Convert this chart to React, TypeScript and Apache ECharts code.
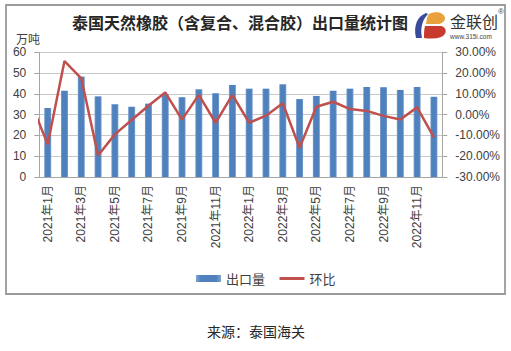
import React, { useEffect, useRef } from "react";
import * as echarts from "echarts";

const months = [
  "2021年1月", "2021年2月", "2021年3月", "2021年4月", "2021年5月", "2021年6月",
  "2021年7月", "2021年8月", "2021年9月", "2021年10月", "2021年11月", "2021年12月",
  "2022年1月", "2022年2月", "2022年3月", "2022年4月", "2022年5月", "2022年6月",
  "2022年7月", "2022年8月", "2022年9月", "2022年10月", "2022年11月", "2022年12月",
];
const priorMonth = "2020年12月";
const exportVolume = [
  33.2, 41.5, 48.3, 38.8, 35.0, 33.8, 35.3, 39.8, 38.4, 42.2, 40.3, 44.3,
  42.5, 42.5, 44.6, 37.5, 39.0, 41.5, 42.5, 43.3, 43.2, 41.9, 43.3, 38.6,
];
// month-on-month change (%), first value is Dec 2020 (clipped at the left edge)
const momChange = [
  5.9, -14.3, 25.8, 17.5, -19.7, -9.5, -2.6, 4.3, 10.7, -2.4, 9.5, -3.9, 9.5,
  -3.9, -0.5, 5.5, -15.9, 3.8, 6.2, 2.7, 1.8, -0.6, -2.3, 3.5, -10.9,
];
const leftTicks = { min: 0, max: 60, interval: 10 };
const rightTicks = { min: -30, max: 30, interval: 10 };

const blueD = "M15 3 C7 6 2 15 5 28 L11 28 C9 19 11 10 17 4 Z";
const orangeD = "M18 4 C24 1 33 2 34 8 C34 12 30 14 26 14 L15 14 C16 9 16 6 18 4 Z";
const redD = "M14 16 L30 16 C35 17 36 22 33 25 C29 29 20 29 13 28 C13 24 13 20 14 16 Z";
echarts.graphic.registerShape("logoBlue", echarts.graphic.extendPath(blueD, {}) as any);
echarts.graphic.registerShape("logoOrange", echarts.graphic.extendPath(orangeD, {}) as any);
echarts.graphic.registerShape("logoRed", echarts.graphic.extendPath(redD, {}) as any);

const FONT = "'Liberation Sans', Arial, 'Noto Sans CJK SC', sans-serif";
const CJK = "'Noto Sans CJK SC', sans-serif";

export default function App() {
  const ref = useRef<HTMLDivElement>(null);
  useEffect(() => {
    if (!ref.current) return;
    const chart = echarts.init(ref.current, null, { renderer: "svg" });
    chart.setOption({
      animation: false,
      backgroundColor: "#ffffff",
      textStyle: { fontFamily: FONT },
      grid: { left: 39.3, right: 68.7, top: 52.3, bottom: 174, containLabel: false },
      legend: {
        left: 191,
        top: 267,
        itemWidth: 25,
        itemHeight: 7,
        itemGap: 13,
        textStyle: { fontSize: 13, color: "#404040", fontFamily: CJK },
        data: [
          { name: "出口量", icon: "rect" },
          {
            name: "环比",
            itemStyle: { color: "rgba(0,0,0,0)", borderColor: "rgba(0,0,0,0)", borderWidth: 0 },
            lineStyle: { width: 3, color: "#c0504d" },
          },
        ],
      },
      xAxis: [
        {
          type: "category",
          data: months,
          boundaryGap: true,
          axisLine: { lineStyle: { color: "#a6a6a6" } },
          axisTick: { interval: 1, length: 4, lineStyle: { color: "#a6a6a6" } },
          axisLabel: {
            interval: 1,
            rotate: 90,
            margin: 8,
            fontSize: 12,
            color: "#404040",
            fontFamily: FONT,
          },
        },
        {
          type: "category",
          data: [priorMonth, ...months],
          boundaryGap: true,
          min: 1,
          max: 24,
          show: false,
          position: "bottom",
        },
      ],
      yAxis: [
        {
          type: "value",
          ...leftTicks,
          axisLine: { show: true, lineStyle: { color: "#a6a6a6" } },
          axisTick: { show: true, length: 5, lineStyle: { color: "#a6a6a6" } },
          axisLabel: { fontSize: 12, color: "#404040", margin: 13 },
          splitLine: { lineStyle: { color: "#c8c8c8" } },
        },
        {
          type: "value",
          ...rightTicks,
          position: "right",
          axisLine: { show: true, lineStyle: { color: "#a6a6a6" } },
          axisTick: { show: true, length: 5, lineStyle: { color: "#a6a6a6" } },
          axisLabel: {
            fontSize: 12,
            color: "#404040",
            margin: 13,
            formatter: (v: number) => v.toFixed(2) + "%",
          },
          splitLine: { show: false },
        },
      ],
      series: [
        {
          name: "出口量",
          type: "bar",
          xAxisIndex: 0,
          yAxisIndex: 0,
          barWidth: 7,
          data: exportVolume,
          itemStyle: {
            color: new echarts.graphic.LinearGradient(0, 0, 1, 0, [
              { offset: 0, color: "#7ea3d2" },
              { offset: 0.2, color: "#4f81bd" },
              { offset: 0.8, color: "#4f81bd" },
              { offset: 1, color: "#7ea3d2" },
            ]),
          },
        },
        {
          name: "环比",
          type: "line",
          xAxisIndex: 1,
          yAxisIndex: 1,
          symbol: "none",
          clip: true,
          data: momChange,
          lineStyle: { color: "#c0504d", width: 2.5 },
          itemStyle: { color: "#c0504d" },
        },
      ],
      graphic: [
        {
          type: "rect",
          shape: { x: 6, y: 5, width: 499, height: 289 },
          style: { fill: "none", stroke: "#9a9a9a", lineWidth: 1.8 },
          silent: true,
        },
        {
          type: "text",
          x: 240,
          y: 22,
          style: {
            text: "泰国天然橡胶（含复合、混合胶）出口量统计图",
            fontSize: 16,
            fontWeight: "bold",
            fontFamily: CJK,
            fill: "#262626",
            align: "center",
            verticalAlign: "middle",
          },
        },
        {
          type: "text",
          x: 16,
          y: 38,
          style: {
            text: "万吨",
            fontSize: 12,
            fontFamily: CJK,
            fill: "#404040",
            verticalAlign: "middle",
          },
        },
        { type: "logoBlue", x: 411, y: 10, style: { fill: "#3b4b9c" } },
        { type: "logoOrange", x: 411, y: 10, style: { fill: "#e9a23b" } },
        { type: "logoRed", x: 411, y: 10, style: { fill: "#c8392e" } },
        {
          type: "text",
          x: 450,
          y: 21,
          style: {
            text: "金联创",
            fontSize: 16,
            fontFamily: CJK,
            fill: "#333333",
            verticalAlign: "middle",
          },
        },
        {
          type: "text",
          x: 450,
          y: 36.5,
          style: {
            text: "www.315i.com",
            fontSize: 6.5,
            fontFamily: FONT,
            fill: "#444444",
            verticalAlign: "middle",
          },
        },
        {
          type: "text",
          x: 498,
          y: 11,
          style: {
            text: "®",
            fontSize: 8,
            fontFamily: FONT,
            fill: "#444444",
            verticalAlign: "middle",
          },
        },
        {
          type: "text",
          x: 256,
          y: 331,
          style: {
            text: "来源：泰国海关",
            fontSize: 14,
            fontFamily: CJK,
            fill: "#262626",
            align: "center",
            verticalAlign: "middle",
          },
        },
      ],
    });
    return () => chart.dispose();
  }, []);
  return (
    <div
      ref={ref}
      style={{ position: "fixed", left: 0, top: 0, width: 511, height: 351, background: "#fff" }}
    />
  );
}
